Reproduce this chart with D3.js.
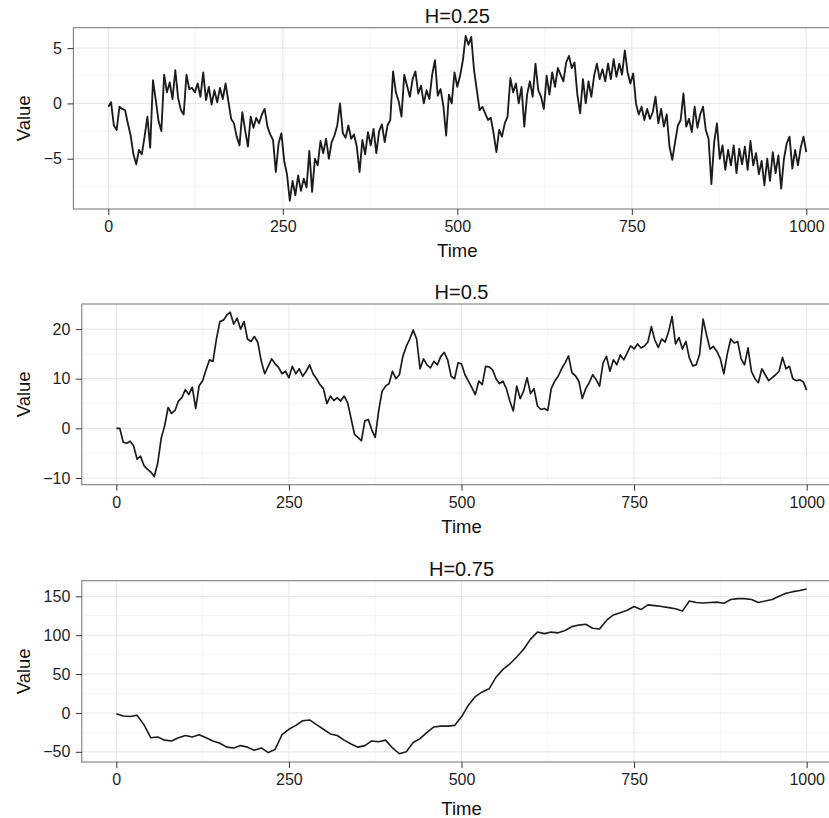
<!DOCTYPE html>
<html><head><meta charset="utf-8">
<script src="https://cdn.jsdelivr.net/npm/d3@7"></script>
<style>html,body{margin:0;padding:0;background:#fff;} svg{display:block;}</style>
</head><body><svg id="chart" width="829" height="818"></svg>
<script>
// ---------- data ----------
const panelTitles = ["H=0.25", "H=0.5", "H=0.75"];
const xTitle = "Time";
const yTitle = "Value";

const h25Step = 4;
const h25Values = [
 -0.3, 0.1, -2.0, -2.4, -0.3, -0.5, -0.6, -1.8, -2.9, -4.6, -5.5, -4.2, -4.6, -3.0, -1.2, -4.0, 2.1, 0.3, -1.6, -2.5, 2.6, 1.0, 1.9, 0.4, 3.0,
 0.5, -0.6, -1.0, 2.6, 1.3, 1.4, 1.0, 1.8, 0.6, 2.8, 0.3, 1.5, -0.1, 1.2, 0.1, 1.4, 0.4, 1.8, 0.2, -1.4, -1.8, -3.0, -3.8, -0.8, -2.4,
 -3.9, -1.2, -2.2, -1.3, -1.8, -1.0, -0.5, -2.1, -2.8, -3.3, -6.2, -3.6, -2.7, -5.2, -6.4, -8.8, -7.0, -8.3, -6.5, -7.9, -6.8, -7.6, -4.3, -8.0, -5.0,
 -5.6, -3.4, -4.5, -3.2, -5.0, -3.5, -2.9, -2.0, 0.0, -2.7, -3.1, -2.0, -3.2, -2.8, -3.9, -6.2, -3.3, -4.6, -2.6, -3.8, -2.3, -4.5, -2.5, -1.9, -3.5,
 -2.0, -1.5, 2.9, 1.0, 0.2, -1.2, 2.6, 1.6, 0.6, 2.2, 2.9, 0.9, 1.6, 0.0, 1.2, 0.4, 2.6, 3.9, 0.7, 1.3, -0.2, -2.9, 0.8, 0.0, 2.8,
 1.5, 2.5, 3.9, 6.1, 5.3, 6.0, 3.0, 1.2, -0.6, -0.3, -0.9, -1.5, -1.3, -2.7, -4.4, -2.4, -3.0, -1.8, -1.2, 2.3, 1.0, 1.8, 0.0, 1.5, -2.1,
 0.8, 2.0, 0.6, 3.6, 1.2, 0.6, -0.5, 2.5, 0.8, 2.8, 1.5, 3.2, 2.6, 2.0, 3.7, 4.3, 3.2, 3.7, 0.8, -0.9, 2.2, 0.0, 2.0, 0.6, 2.5,
 3.6, 2.2, 3.1, 2.0, 3.6, 2.2, 4.0, 2.4, 3.6, 2.6, 4.8, 2.8, 1.8, 2.7, 0.0, -1.0, -0.3, -1.5, -0.5, -1.4, -0.8, 0.6, -1.8, -0.5, -2.1,
 -1.0, -3.9, -5.1, -3.5, -2.0, -1.5, 0.9, -2.1, -1.4, -2.6, -0.3, -2.2, -1.0, -0.3, -2.4, -3.2, -7.3, -3.5, -1.8, -5.0, -3.8, -6.0, -4.2, -5.6, -3.8,
 -6.3, -4.1, -5.5, -3.9, -6.0, -3.4, -5.6, -4.5, -6.4, -5.2, -7.4, -5.0, -7.0, -4.4, -6.3, -4.7, -7.7, -5.0, -3.6, -3.0, -5.9, -4.2, -5.6, -4.0, -3.0, -4.4
];

const h50Step = 5;
const h50Values = [
 0, 0.0, -2.8, -3.0, -2.6, -3.5, -6.2, -5.6, -7.5, -8.2, -8.8, -9.7, -7.0, -2.0, 0.5, 4.2, 3.0, 3.6, 5.5, 6.2,
 7.8, 6.8, 8.3, 4.0, 8.6, 9.6, 11.8, 13.8, 13.5, 18.0, 21.5, 21.8, 22.8, 23.4, 21.0, 22.2, 20.0, 21.5, 18.0, 17.5,
 18.5, 17.3, 13.5, 11.0, 12.5, 14.0, 13.0, 12.3, 11.0, 11.5, 10.2, 12.5, 11.0, 12.0, 10.5, 11.5, 12.8, 11.0, 10.0, 8.8,
 8.0, 5.0, 6.5, 5.6, 6.2, 5.5, 6.5, 5.2, 2.0, -1.2, -1.8, -2.5, 1.5, 1.8, -0.3, -1.8, 3.5, 7.5, 8.5, 9.0,
 11.5, 10.0, 10.8, 14.5, 16.5, 18.0, 19.8, 18.0, 12.0, 14.0, 12.8, 12.2, 13.5, 12.8, 14.5, 15.3, 13.8, 10.5, 10.0, 13.2,
 13.0, 10.8, 9.5, 8.2, 6.8, 9.5, 8.8, 12.5, 12.4, 11.8, 10.0, 9.0, 9.5, 8.0, 5.5, 3.5, 8.5, 6.0, 7.5, 10.2,
 7.0, 8.0, 4.5, 3.8, 4.0, 3.6, 8.0, 9.5, 10.5, 12.0, 13.2, 14.6, 11.2, 10.6, 9.5, 6.0, 8.0, 9.2, 10.8, 9.8,
 8.5, 13.2, 14.5, 11.5, 13.8, 12.8, 14.8, 13.8, 15.2, 16.6, 16.0, 17.0, 16.2, 16.6, 17.4, 20.5, 17.8, 16.3, 18.0, 17.4,
 19.5, 22.5, 17.0, 18.3, 16.0, 17.5, 14.2, 12.6, 12.8, 15.0, 22.0, 18.8, 16.0, 16.5, 15.5, 14.0, 11.0, 15.0, 18.0, 17.2,
 17.5, 14.0, 12.8, 16.2, 11.5, 10.0, 9.2, 12.0, 10.8, 9.6, 10.2, 10.8, 11.5, 14.3, 12.0, 12.5, 10.0, 9.6, 9.8, 9.4, 7.7
];

const h75Step = 10;
const h75Values = [
 -1, -4, -4.5, -3, -15, -32, -31, -35, -36, -32,
 -29, -31, -28, -32, -36, -39, -44, -45, -42, -44,
 -48, -45, -51, -47, -28, -21, -16, -10, -9, -15,
 -21, -27, -29, -35, -40, -44, -42, -36, -37, -35,
 -45, -52.5, -50, -38, -33, -25, -18, -17, -17, -16,
 -5, 10, 21, 27, 31, 46, 56, 63, 72, 82,
 95, 104, 102, 104, 103, 106, 111, 113, 114, 109,
 108, 119, 126, 129, 132, 137, 133, 139, 138, 137,
 135.5, 134, 131, 144, 142, 141.5, 142, 142.5, 141, 146,
 147, 147, 146, 142, 144, 146, 150, 154, 156, 157.5, 159.5
];

const xTicks = [0, 250, 500, 750, 1000];
const xMinorTicks = [125, 375, 625, 875];
const yTicks25 = [-5, 0, 5];
const yMinor25 = [-7.5, -2.5, 2.5];
const yTicks50 = [-10, 0, 10, 20];
const yMinor50 = [-5, 5, 15];
const yTicks75 = [-50, 0, 50, 100, 150];
const yMinor75 = [-25, 25, 75, 125];

// ---------- layout ----------
const seriesList = [
  {title: panelTitles[0], step: h25Step, values: h25Values, yTicks: yTicks25, yMinor: yMinor25},
  {title: panelTitles[1], step: h50Step, values: h50Values, yTicks: yTicks50, yMinor: yMinor50},
  {title: panelTitles[2], step: h75Step, values: h75Values, yTicks: yTicks75, yMinor: yMinor75}
];
const layouts = [
  {left: 73.4, right: 841.2, top: 27.7, bottom: 209.0, xTitleDy: 48.3, lineWidth: 1.85},
  {left: 81.8, right: 841.2, top: 304.0, bottom: 484.7, xTitleDy: 48.3, lineWidth: 1.7},
  {left: 81.8, right: 841.2, top: 580.7, bottom: 762.0, xTitleDy: 53.0, lineWidth: 1.6}
];

const FONT = "'Liberation Sans', Arial, Helvetica, sans-serif";
const svg = d3.select("#chart");
svg.append("rect").attr("width", 829).attr("height", 818).attr("fill", "#fff");

function expand(ext, f) { const r = ext[1] - ext[0]; return [ext[0] - f * r, ext[1] + f * r]; }

seriesList.forEach((s, pi) => {
  const L = layouts[pi];
  const data = s.values.map((v, i) => ({t: i * s.step, v: v}));
  const x = d3.scaleLinear().domain(expand(d3.extent(data, d => d.t), 0.05)).range([L.left, L.right]);
  const y = d3.scaleLinear().domain(expand(d3.extent(data, d => d.v), 0.05)).range([L.bottom, L.top]);

  const g = svg.append("g");
  g.append("rect").attr("x", L.left).attr("y", L.top)
    .attr("width", L.right - L.left).attr("height", L.bottom - L.top).attr("fill", "#fff");

  // minor grid
  g.selectAll(".xminor").data(xMinorTicks).join("line")
    .attr("x1", d => x(d)).attr("x2", d => x(d)).attr("y1", L.top).attr("y2", L.bottom)
    .attr("stroke", "#f2f2f2").attr("stroke-width", 0.8);
  g.selectAll(".yminor").data(s.yMinor).join("line")
    .attr("x1", L.left).attr("x2", L.right).attr("y1", d => y(d)).attr("y2", d => y(d))
    .attr("stroke", "#f2f2f2").attr("stroke-width", 0.8);
  // major grid
  g.selectAll(".xmajor").data(xTicks).join("line")
    .attr("x1", d => x(d)).attr("x2", d => x(d)).attr("y1", L.top).attr("y2", L.bottom)
    .attr("stroke", "#e6e6e6").attr("stroke-width", 1);
  g.selectAll(".ymajor").data(s.yTicks).join("line")
    .attr("x1", L.left).attr("x2", L.right).attr("y1", d => y(d)).attr("y2", d => y(d))
    .attr("stroke", "#e6e6e6").attr("stroke-width", 1);

  // series line
  const line = d3.line().x(d => x(d.t)).y(d => y(d.v));
  g.append("path").datum(data).attr("d", line)
    .attr("fill", "none").attr("stroke", "#1c1c1c").attr("stroke-width", L.lineWidth)
    .attr("stroke-linejoin", "round");

  // border
  g.append("rect").attr("x", L.left).attr("y", L.top)
    .attr("width", L.right - L.left).attr("height", L.bottom - L.top)
    .attr("fill", "none").attr("stroke", "#7f7f7f").attr("stroke-width", 1.1);

  // axes
  const xAxis = g.append("g").attr("transform", `translate(0,${L.bottom})`)
    .call(d3.axisBottom(x).tickValues(xTicks).tickSize(6).tickPadding(6).tickFormat(d3.format("d")));
  const yAxis = g.append("g").attr("transform", `translate(${L.left},0)`)
    .call(d3.axisLeft(y).tickValues(s.yTicks).tickSize(6).tickPadding(5.5));
  [xAxis, yAxis].forEach(a => {
    a.select(".domain").remove();
    a.selectAll(".tick line").attr("stroke", "#333").attr("stroke-width", 1);
    a.selectAll(".tick text").attr("fill", "#1e1e1e").style("font-family", FONT).style("font-size", "16px");
  });

  // titles
  g.append("text").attr("x", (L.left + L.right) / 2).attr("y", L.top - 5)
    .attr("text-anchor", "middle").style("font-family", FONT).style("font-size", "20px")
    .attr("fill", "#111").text(s.title);
  g.append("text").attr("x", (L.left + L.right) / 2).attr("y", L.bottom + L.xTitleDy)
    .attr("text-anchor", "middle").style("font-family", FONT).style("font-size", "18.5px")
    .attr("fill", "#111").text(xTitle);
  g.append("text").attr("transform", `translate(${23 + 6.5},${(L.top + L.bottom) / 2}) rotate(-90)`)
    .attr("text-anchor", "middle").style("font-family", FONT).style("font-size", "18.5px")
    .attr("fill", "#111").text(yTitle);
});
</script>
</body></html>
